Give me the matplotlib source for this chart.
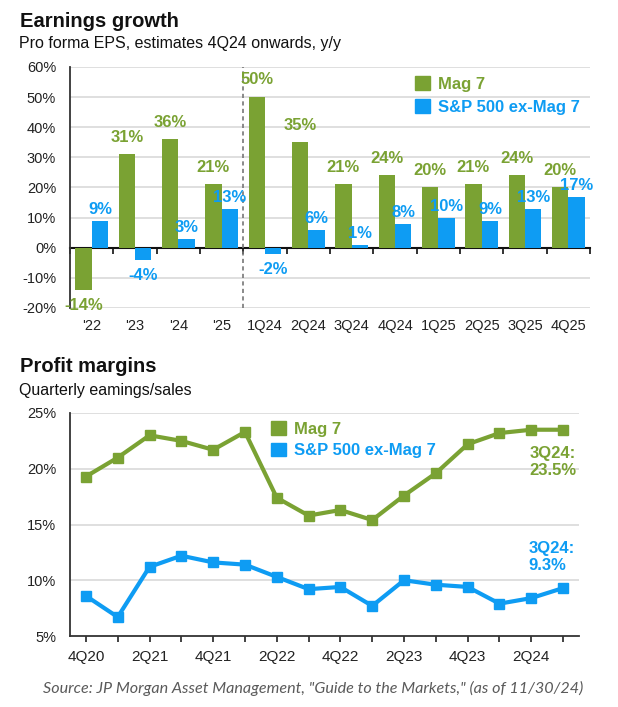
import numpy as np
import matplotlib
matplotlib.use("Agg")
import matplotlib.pyplot as plt
from matplotlib.patches import Patch

# ---------------- data ----------------
eps_categories = ["'22", "'23", "'24", "'25", "1Q24", "2Q24", "3Q24", "4Q24",
                  "1Q25", "2Q25", "3Q25", "4Q25"]
eps_mag7 = [-14, 31, 36, 21, 50, 35, 21, 24, 20, 21, 24, 20]
eps_ex_mag7 = [9, -4, 3, 13, -2, 6, 1, 8, 10, 9, 13, 17]
eps_yticks = [-20, -10, 0, 10, 20, 30, 40, 50, 60]

margin_quarters = ["4Q20", "1Q21", "2Q21", "3Q21", "4Q21", "1Q22", "2Q22", "3Q22",
                   "4Q22", "1Q23", "2Q23", "3Q23", "4Q23", "1Q24", "2Q24", "3Q24"]
margin_mag7 = [19.3, 21.0, 23.0, 22.5, 21.7, 23.3, 17.4, 15.8,
               16.3, 15.4, 17.6, 19.6, 22.2, 23.2, 23.5, 23.5]
margin_ex_mag7 = [8.6, 6.7, 11.2, 12.2, 11.6, 11.4, 10.3, 9.2,
                  9.4, 7.7, 10.0, 9.6, 9.4, 7.9, 8.4, 9.3]
margin_yticks = [5, 10, 15, 20, 25]

series_names = ["Mag 7", "S&P 500 ex-Mag 7"]

# ---------------- style ----------------
GREEN = "#7AA233"
BLUE = "#0E9CF3"
GRID = "#DCDCDC"
plt.rcParams["font.family"] = ["Liberation Sans", "DejaVu Sans"]

W, H = 618, 707
fig = plt.figure(figsize=(W / 100, H / 100), dpi=100)


def fx(px):
    return px / W


def fy(py):
    return 1 - py / H


# ---------------- top: earnings growth ----------------
ax1 = fig.add_axes([fx(70), fy(308), fx(590) - fx(70), fy(67) - fy(308)])
n = len(eps_categories)
x = np.arange(n)
bw = 0.38
b1 = ax1.bar(x - bw / 2, eps_mag7, bw, color=GREEN, zorder=3)
b2 = ax1.bar(x + bw / 2, eps_ex_mag7, bw, color=BLUE, zorder=3)

for bars, vals, col, up in ((b1, eps_mag7, GREEN, 7), (b2, eps_ex_mag7, BLUE, 2.5)):
    for rect, v in zip(bars, vals):
        cx = rect.get_x() + rect.get_width() / 2
        if v >= 0:
            ax1.annotate(f"{v}%", (cx, v), xytext=(0, up), textcoords="offset points",
                         ha="center", va="bottom", color=col, fontsize=12,
                         fontweight="bold", zorder=5)
        else:
            ax1.annotate(f"{v}%", (cx, v), xytext=(0, -6), textcoords="offset points",
                         ha="center", va="top", color=col, fontsize=12,
                         fontweight="bold", zorder=5)

ax1.set_xlim(-0.5, n - 0.5)
ax1.set_ylim(eps_yticks[0], eps_yticks[-1])
ax1.set_yticks(eps_yticks)
ax1.set_yticklabels([f"{t}%" for t in eps_yticks])
ax1.set_xticks(x)
ax1.set_xticklabels(eps_categories)
ax1.tick_params(axis="both", length=0, labelsize=10.5, colors="#222222")
ax1.tick_params(axis="y", pad=10)
ax1.tick_params(axis="x", pad=8)
for t in eps_yticks:
    if t != 0:
        ax1.axhline(t, color=GRID, lw=1.3, zorder=1)
for s in ("top", "right", "bottom"):
    ax1.spines[s].set_visible(False)
ax1.spines["left"].set_color("#333333")
ax1.spines["left"].set_linewidth(1.3)
ax1.spines["left"].set_zorder(4)

# zero axis with boundary ticks
zero_frac = (0 - eps_yticks[0]) / (eps_yticks[-1] - eps_yticks[0])
sec = ax1.secondary_xaxis(zero_frac)
sec.set_xticks(np.arange(n + 1) - 0.5)
sec.xaxis.set_ticks_position("bottom")
sec.tick_params(axis="x", direction="out", length=4, width=1.3, color="#222222",
                labelbottom=False, labeltop=False)
sec.spines["bottom"].set_color("#111111")
sec.spines["bottom"].set_linewidth(1.5)
sec.spines["top"].set_visible(False)

# divider between annual and quarterly
ax1.axvline(3.5, color="#777777", lw=1.2, ls=(0, (2.5, 2)), zorder=2)

handles = [Patch(color=GREEN), Patch(color=BLUE)]
ax1.legend(handles, series_names, loc="upper left",
           bbox_to_anchor=(fx(415), fy(76)), bbox_transform=fig.transFigure,
           frameon=False, prop={"weight": "bold", "size": 12},
           labelcolor=[GREEN, BLUE], handlelength=0.9, handleheight=0.9,
           handletextpad=0.5, labelspacing=0.45, borderpad=0, borderaxespad=0)

fig.text(fx(20), fy(27), "Earnings growth", fontsize=14.5, fontweight="bold",
         color="#111111", ha="left", va="baseline")
fig.text(fx(19), fy(48), "Pro forma EPS, estimates 4Q24 onwards, y/y", fontsize=11.5,
         color="#111111", ha="left", va="baseline")

# ---------------- bottom: profit margins ----------------
ax2 = fig.add_axes([fx(70), fy(636), fx(579) - fx(70), fy(413) - fy(636)])
m = len(margin_quarters)
xq = np.arange(m)
ax2.plot(xq, margin_mag7, color=GREEN, lw=3, marker="s", markersize=6.5, zorder=3)
ax2.plot(xq, margin_ex_mag7, color=BLUE, lw=3, marker="s", markersize=6.5, zorder=3)
ax2.set_xlim(-0.5, m - 0.5)
ax2.set_ylim(margin_yticks[0], margin_yticks[-1])
ax2.set_yticks(margin_yticks)
ax2.set_yticklabels([f"{t}%" for t in margin_yticks])
ax2.set_xticks(xq)
ax2.set_xticklabels([q if i % 2 == 0 else "" for i, q in enumerate(margin_quarters)])
ax2.tick_params(axis="y", length=0, pad=10, labelsize=10.5, colors="#222222")
ax2.tick_params(axis="x", direction="out", length=4, width=1.2, pad=6,
                labelsize=11, colors="#222222")
for t in margin_yticks[1:]:
    ax2.axhline(t, color=GRID, lw=1.3, zorder=1)
for s in ("top", "right"):
    ax2.spines[s].set_visible(False)
for s in ("left", "bottom"):
    ax2.spines[s].set_color("#333333")
    ax2.spines[s].set_linewidth(1.3)

ax2.annotate(f"{margin_quarters[-1]}:\n{margin_mag7[-1]}%", (xq[-1], margin_mag7[-1]),
             xytext=(-24, -12), textcoords="offset points", ha="left", va="top",
             color=GREEN, fontsize=12, fontweight="bold", linespacing=1.15)
ax2.annotate(f"{margin_quarters[-1]}:\n{margin_ex_mag7[-1]}%", (xq[-1], margin_ex_mag7[-1]),
             xytext=(-25, 11), textcoords="offset points", ha="left", va="bottom",
             color=BLUE, fontsize=12, fontweight="bold", linespacing=1.15)

ax2.legend([Patch(color=GREEN), Patch(color=BLUE)], series_names, loc="upper left",
           bbox_to_anchor=(fx(271), fy(421)), bbox_transform=fig.transFigure,
           frameon=False, prop={"weight": "bold", "size": 12},
           labelcolor=[GREEN, BLUE], handlelength=0.9, handleheight=0.9,
           handletextpad=0.45, labelspacing=0.35, borderpad=0, borderaxespad=0)

fig.text(fx(20), fy(372), "Profit margins", fontsize=14.5, fontweight="bold",
         color="#111111", ha="left", va="baseline")
fig.text(fx(19), fy(395), "Quarterly eamings/sales", fontsize=11.5,
         color="#111111", ha="left", va="baseline")

fig.text(fx(313), fy(688), 'Source: JP Morgan Asset Management, "Guide to the Markets," (as of 11/30/24)',
         fontsize=11.6, fontstyle="italic", family=["Lato", "DejaVu Sans"],
         color="#5A5A5A", ha="center", va="center")

fig.savefig("out.png", dpi=100, facecolor="white")
